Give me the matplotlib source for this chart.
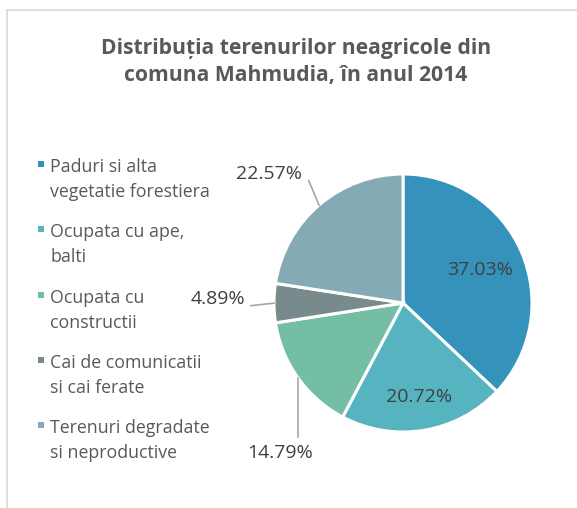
import numpy as np
import matplotlib.pyplot as plt
from matplotlib.patches import Rectangle

plt.rcParams['font.family'] = ['Open Sans', 'DejaVu Sans']

# data
labels = ['Paduri si alta\nvegetatie forestiera',
          'Ocupata cu ape,\nbalti',
          'Ocupata cu\nconstructii',
          'Cai de comunicatii\nsi cai ferate',
          'Terenuri degradate\nsi neproductive']
values = [37.03, 20.72, 14.79, 4.89, 22.57]
colors = ['#3592bb', '#56b4c0', '#74bea6', '#788a8b', '#84abb5']
title = 'Distribuția terenurilor neagricole din\ncomuna Mahmudia, în anul 2014'

W, H = 577, 508
fig = plt.figure(figsize=(W / 100, H / 100), dpi=100)

# light frame (top and left visible)
fig.add_artist(plt.Line2D([7 / W, 1], [1 - 10 / H, 1 - 10 / H], color='#d9d9d9', lw=1.2))
fig.add_artist(plt.Line2D([7 / W, 7 / W], [0, 1 - 10 / H], color='#d9d9d9', lw=1.2))

fig.text(296 / W, 1 - 62 / H, title, ha='center', va='center', fontsize=15.2,
         fontweight='bold', color='#595959', linespacing=1.33)

# pie axes: centre (403, 303) px, radius 129 px
cx, cy, r = 403, 303, 129
ax = fig.add_axes([(cx - r) / W, (H - cy - r) / H, 2 * r / W, 2 * r / H])
wedges, _ = ax.pie(values, colors=colors, startangle=90, counterclock=False,
                   wedgeprops=dict(edgecolor='white', linewidth=2.2))
ax.set_xlim(-1, 1)
ax.set_ylim(-1, 1)

# labels: inside radius, or (line end, text pos) offsets in radius units
tot = sum(values)
cum = 0
inside = {0: 0.65, 1: 0.74}
outside = {2: ((0.0, -0.46), (-0.14, -0.585), 'center'),
           3: ((-0.18, -0.02), (-0.22, 0.03), 'right'),
           4: ((-0.08, 0.19), (-0.13, 0.24), 'right')}
for i, v in enumerate(values):
    mid = np.deg2rad(90 - (cum + v / 2) / tot * 360)
    cum += v
    txt = f'{v:.2f}%'
    if i in inside:
        d = inside[i]
        ax.text(d * np.cos(mid), d * np.sin(mid), txt, ha='center', va='center',
                fontsize=14, color='#404040')
    else:
        (lx, ly), (tx, ty), ha = outside[i]
        ex, ey = np.cos(mid), np.sin(mid)
        ax.plot([ex, ex + lx], [ey, ey + ly], color='#a6a6a6', lw=1.2,
                clip_on=False)
        ax.text(ex + tx, ey + ty, txt, ha=ha, va='center', fontsize=14,
                color='#404040', clip_on=False)

# legend
for i, (lab, c) in enumerate(zip(labels, colors)):
    y = 164 + i * 65.3
    fig.add_artist(Rectangle((38 / W, 1 - (y + 3) / H), 6 / W, 6 / H,
                             transform=fig.transFigure, facecolor=c, edgecolor='none'))
    fig.text(50 / W, 1 - (y - 6) / H, lab, ha='left', va='top', fontsize=12.8,
             color='#595959', linespacing=1.5)

fig.savefig('out.png', dpi=100)
